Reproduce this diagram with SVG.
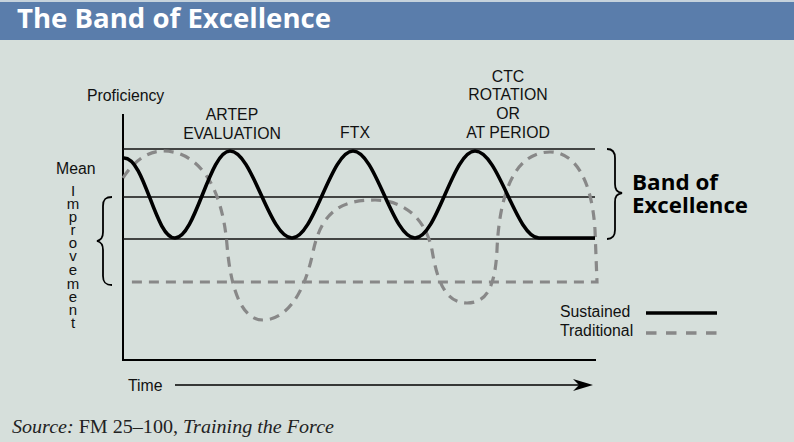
<svg xmlns="http://www.w3.org/2000/svg" width="794" height="442" viewBox="0 0 794 442">
<style>
.lbl{font-family:"Liberation Sans",Arial,sans-serif;font-size:15.8px;fill:#111}
.vl{font-family:"Liberation Sans",Arial,sans-serif;font-size:15px;fill:#111;text-anchor:middle}
.mid{text-anchor:middle}
.band{stroke:#111;stroke-width:1.6;fill:none}
.sus{stroke:#000;stroke-width:3.6;fill:none;stroke-linejoin:round}
.trad{stroke:#888;stroke-width:3.2;fill:none;stroke-dasharray:10 7}
.brace{stroke:#000;stroke-width:1.8;fill:none}
.bold{font-family:"Open Sans","DejaVu Sans",sans-serif;font-weight:bold}
</style>
<rect x="0" y="0" width="794" height="442" fill="#d6dfdb"/>
<rect x="0" y="0" width="794" height="2" fill="#c5d2dc"/>
<rect x="0" y="2" width="794" height="38" fill="#5a7dab"/>
<text class="bold" x="17" y="28" font-size="26" fill="#fff" textLength="314" lengthAdjust="spacingAndGlyphs">The Band of Excellence</text>

<g id="axes">
<line x1="123" y1="114" x2="123" y2="361" stroke="#000" stroke-width="2"/>
<line x1="122" y1="360" x2="596" y2="360" stroke="#000" stroke-width="2"/>
</g>
<g id="band-lines">
<line class="band" x1="123" y1="149" x2="595" y2="149"/>
<line class="band" x1="123" y1="197" x2="595" y2="197"/>
<line class="band" x1="123" y1="239" x2="595" y2="239"/>
</g>

<g id="connectors">
<path id="traditional" class="trad" d="M123,178 C133,162 147,151 163,151 C198,151 222,185 227,245 C231,293 243,320 263,320 C283,320 303,300 313,252 C322,208 345,200 375,200 C400,200 425,215 432,250 C437,280 445,303 467,303 C485,303 495,290 497,250 C499,200 512,152 550,152 C575,152 592,180 595,230 L597,282 L131,282"/>
<path id="sustained" class="sus" d="M124,158 C145,158 155,238 175,238 C195.4,238 209.6,151 230,151 C252.6,151 269.4,238 292,238 C314,238 331,151 353,151 C375.6,151 392.4,238 415,238 C436.9,238 453.1,151 475,151 C498.7,151 516.3,238 539,238 L595,238"/>
</g>

<g id="left-brace">
<path class="brace" d="M112,197 C105,197 103,200 103,206 L103,232 C103,238 101,240 97,241 C101,242 103,244 103,250 L103,276 C103,282 105,285 112,285"/>
</g>
<g id="right-brace">
<path class="brace" d="M607,149 C613,149 615,152 615,158 L615,184 C615,190 617,192 622,193 C617,194 615,196 615,202 L615,230 C615,236 613,239 607,239"/>
</g>

<g id="labels">
<text class="lbl" x="87" y="101">Proficiency</text>
<text class="lbl mid" x="232" y="120">ARTEP</text>
<text class="lbl mid" x="232" y="139">EVALUATION</text>
<text class="lbl mid" x="355" y="138">FTX</text>
<text class="lbl mid" x="508" y="82">CTC</text>
<text class="lbl mid" x="508" y="100">ROTATION</text>
<text class="lbl mid" x="508" y="119">OR</text>
<text class="lbl mid" x="508" y="138">AT PERIOD</text>
<text class="lbl" x="56" y="174">Mean</text>
<g id="improvement">
<text class="vl" x="73" y="196">I</text>
<text class="vl" x="73" y="209">m</text>
<text class="vl" x="73" y="222">p</text>
<text class="vl" x="73" y="235">r</text>
<text class="vl" x="73" y="248">o</text>
<text class="vl" x="73" y="261">v</text>
<text class="vl" x="73" y="275">e</text>
<text class="vl" x="73" y="289">m</text>
<text class="vl" x="73" y="302">e</text>
<text class="vl" x="73" y="315">n</text>
<text class="vl" x="73" y="328">t</text>
</g>
<text class="bold" x="632" y="190" font-size="21" fill="#000" textLength="86" lengthAdjust="spacingAndGlyphs">Band of</text>
<text class="bold" x="632" y="213" font-size="21" fill="#000" textLength="116" lengthAdjust="spacingAndGlyphs">Excellence</text>
</g>

<g id="legend">
<text class="lbl" x="560" y="317">Sustained</text>
<text class="lbl" x="560" y="336">Traditional</text>
<line x1="646" y1="313" x2="717" y2="313" stroke="#000" stroke-width="3.6"/>
<line x1="646" y1="333" x2="717" y2="333" stroke="#888" stroke-width="3.6" stroke-dasharray="10.5 9.5"/>
</g>

<g id="time-axis">
<text class="lbl" x="128" y="391">Time</text>
<line x1="175" y1="385" x2="580" y2="385" stroke="#000" stroke-width="1.6"/>
<path d="M593,385 L573,379 L579,385 L573,391 Z" fill="#000"/>
</g>

<text x="12" y="433" font-family="'Liberation Serif','Times New Roman',serif" font-size="18" fill="#222" textLength="322" lengthAdjust="spacingAndGlyphs"><tspan font-style="italic">Source:</tspan> FM 25–100, <tspan font-style="italic">Training the Force</tspan></text>
</svg>
